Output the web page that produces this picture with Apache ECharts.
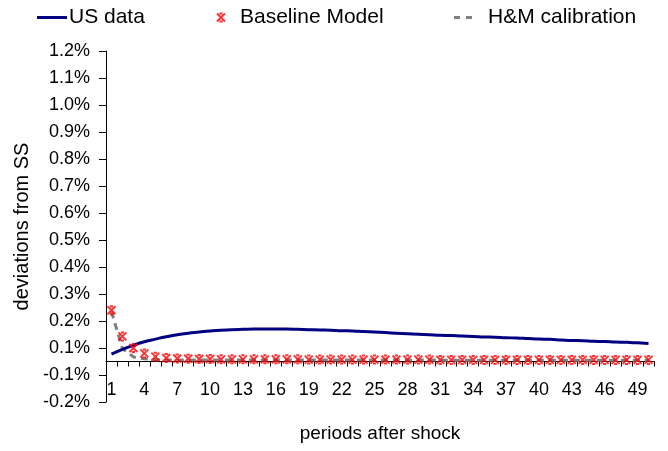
<!DOCTYPE html>
<html>
<head>
<meta charset="utf-8">
<script src="https://cdn.jsdelivr.net/npm/echarts@6/dist/echarts.min.js"></script>
<style>
html,body{margin:0;padding:0;background:#fff;}
#chart{width:668px;height:451px;}
</style>
</head>
<body>
<div id="chart"></div>
<script>
// Periods after shock (categories)
var periods = [];
for (var i = 1; i <= 50; i++) periods.push(String(i));

// Y-axis tick values (percent); labels are shown rounded to one decimal, as in the original
var yTicks = [-0.15,-0.05,0.05,0.15,0.25,0.35,0.45,0.55,0.65,0.75,0.85,0.95,1.05,1.15];

// Values in percent deviations from steady state
var usData = [0.027,0.045,0.060,0.073,0.083,0.092,0.099,0.105,0.109,0.113,
              0.116,0.118,0.119,0.120,0.120,0.120,0.120,0.119,0.118,0.117,
              0.116,0.114,0.113,0.111,0.109,0.107,0.105,0.103,0.101,0.099,
              0.097,0.096,0.094,0.093,0.091,0.090,0.088,0.087,0.085,0.083,
              0.082,0.080,0.078,0.077,0.075,0.074,0.072,0.071,0.069,0.067];

var baselineModel = [0.190,0.093,0.050,0.030,0.018,0.013,0.011,0.010,0.009,0.009,
                     0.008,0.008,0.008,0.008,0.008,0.008,0.008,0.008,0.007,0.007,
                     0.007,0.007,0.007,0.007,0.007,0.007,0.007,0.007,0.007,0.007,
                     0.006,0.006,0.006,0.006,0.006,0.006,0.006,0.006,0.006,0.006,
                     0.006,0.006,0.006,0.006,0.006,0.006,0.006,0.006,0.006,0.006];

var hmCalibration = [0.185,0.048,0.017,0.010,0.007,0.006,0.006,0.006,0.006,0.006,
                     0.006,0.006,0.006,0.006,0.006,0.006,0.006,0.006,0.006,0.006,
                     0.006,0.006,0.006,0.006,0.006,0.006,0.006,0.006,0.006,0.006,
                     0.005,0.005,0.005,0.005,0.005,0.005,0.005,0.005,0.005,0.005,
                     0.005,0.005,0.005,0.005,0.005,0.005,0.005,0.005,0.005,0.005];

var seriesNames = ['US data', 'Baseline Model', 'H&M calibration'];

var FONT = 'Liberation Sans, Arial, sans-serif';
var starPath = 'path://M0,0 L10,10 M10,0 L0,10 M3,0 L7,0 M3,10 L7,10';
var dashIcon = 'path://M0,0 h6 v3 h-6 Z M12,0 h6 v3 h-6 Z';

function excelPct(v) {
  var s = v < 0 ? -1 : 1;
  var r = Math.round(Math.abs(v) * 10 + 1e-6) / 10;
  return (s < 0 && r > 0 ? '-' : '') + r.toFixed(1) + '%';
}

var chart = echarts.init(document.getElementById('chart'), null, {renderer: 'canvas'});
chart.setOption({
  animation: false,
  backgroundColor: '#ffffff',
  textStyle: {fontFamily: FONT},
  legend: [
    {data: [{name: seriesNames[0], icon: 'rect'}], left: 32, top: 2, itemWidth: 30, itemHeight: 3,
     textStyle: {fontSize: 21, color: '#000', fontFamily: FONT, padding: [0, 0, 0, -3]}},
    {data: [{name: seriesNames[1], icon: starPath}], left: 211, top: 2, itemWidth: 8, itemHeight: 8,
     itemStyle: {color: 'rgba(0,0,0,0)', borderColor: '#ff0000', borderWidth: 2},
     textStyle: {fontSize: 21, color: '#000', fontFamily: FONT, padding: [0, 0, 0, 10]}},
    {data: [{name: seriesNames[2], icon: dashIcon}], left: 449, top: 2, itemWidth: 20, itemHeight: 3,
     textStyle: {fontSize: 21, color: '#000', fontFamily: FONT, padding: [0, 0, 0, 10]}}
  ],
  grid: {left: 106, right: 14, top: 51, bottom: 49, containLabel: false, outerBoundsMode: 'none'},
  xAxis: {
    type: 'category',
    data: periods,
    boundaryGap: true,
    name: 'periods after shock',
    nameLocation: 'middle',
    nameGap: 22,
    nameMoveOverlap: false,
    nameTextStyle: {fontSize: 19, color: '#000', fontFamily: FONT},
    axisLine: {onZero: true, lineStyle: {color: '#000', width: 1}},
    axisTick: {show: true, interval: 0, length: 5, inside: false, lineStyle: {color: '#000'}},
    axisLabel: {interval: 2, margin: -21, fontSize: 18, color: '#000', fontFamily: FONT},
    splitLine: {show: false}
  },
  yAxis: {
    type: 'value',
    min: yTicks[0],
    max: yTicks[yTicks.length - 1],
    name: 'deviations from SS',
    nameLocation: 'middle',
    nameGap: 74,
    nameRotate: 90,
    nameTextStyle: {fontSize: 20, color: '#000', fontFamily: FONT},
    axisLine: {show: true, lineStyle: {color: '#000', width: 1}},
    axisTick: {show: true, length: 7, lineStyle: {color: '#000'}, customValues: yTicks},
    axisLabel: {margin: 16, fontSize: 18, color: '#000', fontFamily: FONT, formatter: excelPct, customValues: yTicks},
    splitLine: {show: false}
  },
  series: [
    {
      name: seriesNames[0], type: 'line', data: usData, smooth: true,
      symbol: 'none', lineStyle: {color: '#000080', width: 3}, itemStyle: {color: '#000080'}, z: 3
    },
    {
      name: seriesNames[2], type: 'line', data: hmCalibration,
      symbol: 'none', lineStyle: {color: '#808080', width: 3, type: [7, 5]}, itemStyle: {color: '#808080'}, z: 2
    },
    {
      name: seriesNames[1], type: 'scatter', data: baselineModel,
      symbol: starPath, symbolSize: [8, 8],
      itemStyle: {color: 'rgba(0,0,0,0)', borderColor: '#ff0000', borderWidth: 2}, z: 4
    }
  ]
});
</script>
</body>
</html>
